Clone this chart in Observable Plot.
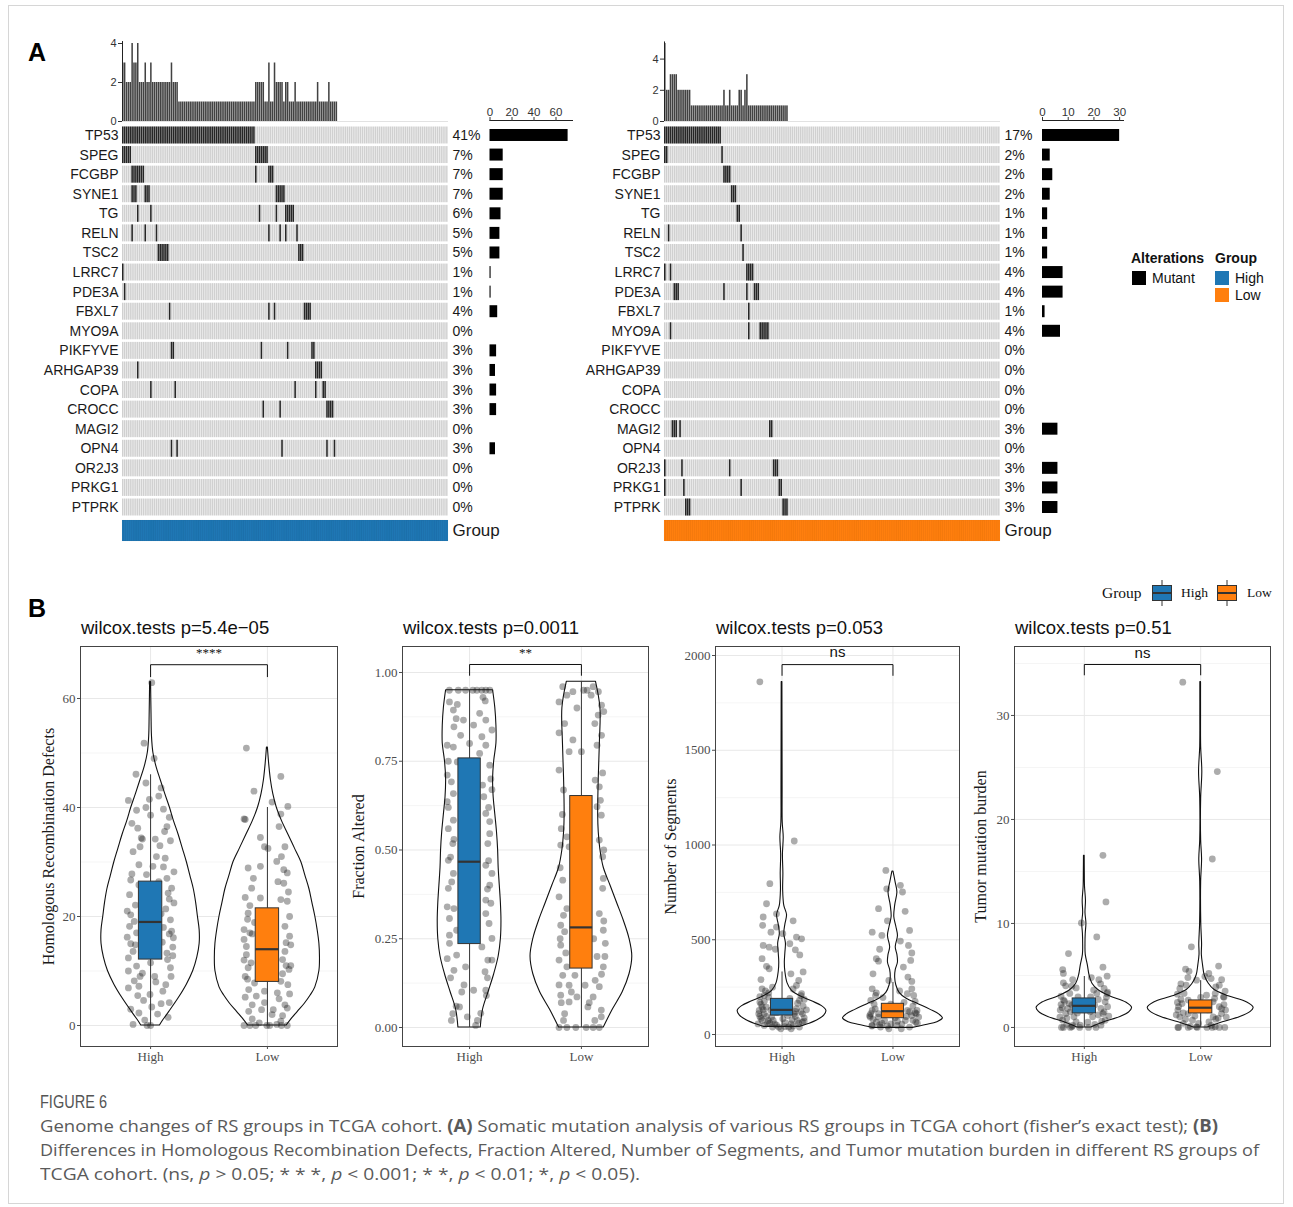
<!DOCTYPE html>
<html><head><meta charset="utf-8">
<script src="https://cdn.jsdelivr.net/npm/d3@7"></script>
<script src="https://cdn.jsdelivr.net/npm/@observablehq/plot@0.6"></script>
<style>
body{margin:0;background:#fff;}
#root{position:relative;width:1293px;height:1207px;overflow:hidden;background:#fff;}
.abs{position:absolute;white-space:nowrap;}
.sans{font-family:"Liberation Sans",Arial,sans-serif;}
.serif{font-family:"Liberation Serif","Times New Roman",serif;}
.ttl{font-family:"Liberation Sans",Arial,sans-serif;font-size:18.5px;line-height:22px;color:#111;}
.capl{font-family:"Open Sans","Liberation Sans",sans-serif;font-size:17px;line-height:22px;color:#5a5a5a;transform-origin:0 0;}
</style></head><body><div id="root"></div>
<script>
// ---------------- Panel A data ----------------
const genes = ["TP53","SPEG","FCGBP","SYNE1","TG","RELN","TSC2","LRRC7","PDE3A","FBXL7","MYO9A","PIKFYVE","ARHGAP39","COPA","CROCC","MAGI2","OPN4","OR2J3","PRKG1","PTPRK"];
const nHigh = 174, nLow = 176;
const highPct = ["41%","7%","7%","7%","6%","5%","5%","1%","1%","4%","0%","3%","3%","3%","3%","0%","3%","0%","0%","0%"];
const lowPct  = ["17%","2%","2%","2%","1%","1%","1%","4%","4%","1%","4%","0%","0%","0%","0%","3%","0%","3%","3%","3%"];
const highCounts = [71,12,12,12,10,9,9,1,1,7,0,6,5,6,6,0,5,0,0,0];
const lowCounts  = [30,3,4,3,2,2,2,8,8,1,7,0,0,0,0,6,0,6,6,6];
// mutated sample columns per gene (ranges)
const highMut = ["0-70","0-4,71-77","5-11,71,78-80","5-7,12-14,82-86","8,15,73,82,87-91","5,12,18,78,84,87,93","19-24,94-96","0","1","25,78,81,97-100","","26,27,74,88,101,102","8,103-106","15,28,92,103,107,108","75,84,109-112","","26,29,85,109,113","","",""];
const lowMut  = ["0-29","0,1,30","31-34","35-37","38,39","2,40","41","0,3,43-46","5-7,31,43,47-49","44","3,44,50-54","","","","","4-6,8,55,56","","0,9,34,57-59","0,10,40,60,61","11-13,62-64"];
// mutations per sample (top bars), as [height, run length]
const highBurdenRuns = [[3,2],[2,3],[4,1],[3,2],[4,1],[2,3],[3,1],[2,2],[3,1],[2,10],[3,1],[2,3],[1,41],[2,5],[1,2],[3,1],[1,2],[3,1],[2,4],[1,1],[2,2],[1,3],[2,1],[1,11],[2,1],[1,5],[2,1],[1,4]];
const lowBurdenRuns  = [[5,1],[2,2],[3,4],[2,7],[1,17],[2,1],[1,2],[2,1],[1,4],[2,2],[1,1],[2,1],[3,1],[1,21]];

// ---------------- Panel B data ----------------
// violin outlines: [value, half-width in category units]
const hrdViolinHigh = [[0,0.08],[1,0.11],[2.5,0.16],[5,0.24],[7.5,0.31],[10,0.365],[12.5,0.4],[15,0.42],[17.5,0.42],[20,0.405],[22.5,0.39],[25,0.37],[27.5,0.34],[30,0.31],[32.5,0.275],[35,0.24],[37.5,0.2],[40,0.165],[42.5,0.125],[45,0.087],[47.5,0.05],[50,0.024],[53,0.012],[57,0.008],[63,0.004]];
const hrdViolinLow  = [[0,0.165],[1,0.2],[2.5,0.26],[4,0.32],[5.5,0.37],[7,0.41],[10,0.445],[12.5,0.45],[15,0.445],[17.5,0.43],[20,0.41],[22.5,0.385],[25,0.36],[27.5,0.325],[30,0.29],[32.5,0.235],[35,0.18],[37.5,0.125],[40,0.08],[42.5,0.05],[45,0.03],[48,0.015],[51,0.004]];
const faViolinHigh  = [[0,0.1],[0.05,0.12],[0.1,0.17],[0.15,0.22],[0.2,0.26],[0.25,0.28],[0.3,0.285],[0.35,0.28],[0.4,0.27],[0.45,0.26],[0.5,0.255],[0.55,0.245],[0.6,0.23],[0.65,0.215],[0.7,0.21],[0.75,0.22],[0.8,0.24],[0.85,0.24],[0.9,0.23],[0.95,0.21]];
const faViolinLow   = [[0,0.2],[0.05,0.28],[0.1,0.37],[0.15,0.43],[0.2,0.455],[0.25,0.43],[0.3,0.38],[0.35,0.32],[0.4,0.26],[0.45,0.2],[0.5,0.17],[0.55,0.155],[0.6,0.15],[0.7,0.155],[0.8,0.165],[0.9,0.17],[0.974,0.13]];
const segViolinHigh = [[40,0.16],[55,0.24],[75,0.32],[100,0.38],[125,0.4],[150,0.36],[175,0.27],[200,0.17],[230,0.09],[270,0.05],[330,0.03],[380,0.025],[430,0.03],[480,0.035],[530,0.02],[580,0.03],[630,0.045],[680,0.02],[760,0.01],[850,0.012],[950,0.008],[1040,0.015],[1120,0.006],[1300,0.005],[1600,0.004],[1860,0.003]];
const segViolinLow  = [[35,0.18],[50,0.3],[65,0.4],[85,0.45],[105,0.42],[130,0.34],[160,0.23],[190,0.12],[220,0.06],[260,0.03],[300,0.02],[340,0.025],[380,0.045],[420,0.04],[460,0.025],[520,0.045],[570,0.03],[620,0.012],[680,0.02],[750,0.04],[800,0.025],[860,0.005]];
const tmbViolinHigh = [[0,0.06],[0.5,0.17],[1,0.31],[1.5,0.39],[1.9,0.41],[2.4,0.36],[3,0.22],[3.6,0.12],[4.2,0.07],[5,0.045],[6,0.03],[7,0.012],[8,0.01],[9,0.012],[10,0.018],[11,0.01],[12.2,0.014],[13.5,0.006],[15,0.004],[16.5,0.003]];
const tmbViolinLow  = [[0,0.06],[0.5,0.19],[1,0.34],[1.5,0.43],[1.9,0.455],[2.4,0.4],[3,0.24],[3.6,0.12],[4.2,0.07],[5,0.035],[6,0.02],[7,0.01],[8,0.012],[10,0.005],[14,0.004],[16.2,0.012],[18,0.004],[22,0.004],[24.6,0.014],[27,0.004],[30,0.003],[33.2,0.003]];
// boxes: [lower whisker, q1, median, q3, upper whisker]
const hrdBoxHigh = [0,12.1,19.0,26.4,46];
const hrdBoxLow  = [0,8.0,14.0,21.5,40];
const faBoxHigh  = [0,0.235,0.467,0.758,0.95];
const faBoxLow   = [0,0.166,0.282,0.652,0.974];
const segBoxHigh = [40,100,130,188,330];
const segBoxLow  = [35,86,123,162,275];
const tmbBoxHigh = [0,1.35,2.08,2.79,4.9];
const tmbBoxLow  = [0,1.35,1.9,2.6,4.5];
// jittered points: [x offset, value]
const hrdPtsHigh = [[0.01,62.9],[-0.056,51.8],[-0.125,46.1],[0.07,42.1],[-0.19,41.3],[0.11,39.7],[-0.01,41.5],[0,38.6],[0.16,38.2],[-0.16,37.1],[-0.08,34.4],[-0.07,34.2],[0.04,34.2],[0.17,33.9],[-0.15,31.9],[0.125,30.7],[-0.1,29.5],[0.02,29.2],[0.11,29.1],[0.2,28.2],[-0.035,27.7],[-0.1,25.8],[0.07,26.4],[-0.18,24],[0.15,24.3],[-0.07,23.4],[-0.17,20.3],[0.09,20.5],[0.16,23.2],[0.17,19.4],[-0.14,19.1],[-0.18,18.2],[0.18,17.3],[-0.12,17],[0.195,16.1],[-0.17,15],[0.1,15.3],[-0.15,13.6],[-0.05,13.9],[0.14,13.3],[-0.19,12.4],[0.145,12.1],[0,11.5],[-0.12,10.9],[0.17,10.6],[-0.07,9.6],[0.035,9],[-0.09,9],[0.175,9],[-0.19,6.9],[-0.1,7.2],[0.045,8],[0.105,6.3],[-0.005,5.7],[0.16,4.2],[-0.1,2.3],[0.01,3.4],[-0.15,0.2],[-0.03,0],[0,0],[-0.13,22.1],[0.13,21.4],[-0.17,26.7],[0.18,25.2],[-0.2,16.2],[0.19,14.4],[-0.14,8.2],[0.13,7.5],[0.06,2.1],[-0.06,4.6],[0.12,35.6],[-0.11,36.2],[0.05,31],[-0.04,40],[0.09,43.6],[-0.2,21],[0.2,22.5],[-0.16,27.8],[0.14,27],[-0.09,32.8],[0.08,33],[-0.19,10],[0.19,12.8],[-0.11,5.5],[0.09,4],[-0.17,3],[0.15,1.5],[-0.05,1],[0.11,18],[-0.13,14.8],[0.16,16.8],[-0.04,44.5],[0.03,49],[-0.12,39.5],[0.14,36.5]];
const hrdPtsLow = [[-0.18,50.9],[0.115,45.7],[-0.115,43],[0.175,40.2],[-0.2,37.9],[-0.19,37.8],[0.115,38.8],[0.1,36.5],[-0.025,32.8],[0.005,32.5],[0.15,32.8],[0.08,30.1],[0.14,28.6],[-0.165,28.9],[-0.06,29.2],[0.17,28],[-0.135,25.2],[0.09,26.4],[0.14,26.1],[-0.19,23.5],[-0.06,23.4],[0.115,23.1],[-0.165,20.6],[0.17,22.8],[-0.11,18.9],[-0.2,17.6],[0.15,18.2],[-0.2,15.8],[0.19,16.4],[-0.18,14.5],[0.15,13.6],[-0.18,13],[0.13,12.1],[-0.165,10.6],[0.185,10.3],[-0.19,9],[-0.11,7.8],[0.115,8.1],[0.175,7.5],[-0.16,6.6],[-0.025,6.3],[0.085,6],[0.15,3.8],[-0.095,5.4],[-0.05,2.9],[0.05,2.9],[0.04,2],[0.115,0.8],[-0.2,0],[-0.1,0],[-0.005,0],[0.08,0.2],[0.17,0],[-0.025,4.2],[-0.13,3.8],[0.17,3.2],[-0.16,2.6],[-0.14,11.5],[0.16,11],[-0.17,8.5],[0.13,9.5],[0.19,20],[-0.15,22],[-0.13,16.8],[0.2,14.8],[-0.2,12],[0.2,11],[-0.17,19.5],[0.18,24.5],[-0.12,27],[0.12,31],[-0.06,34.5],[0.04,41],[-0.19,5.2],[0.19,5.8],[-0.13,1.2],[0.13,1.8],[-0.07,0.5],[0.1,4.9],[-0.15,17],[0.16,15.2],[0.02,0],[0.12,0],[-0.15,0]];
const faPtsHigh = [[-0.181,0.95],[-0.101,0.95],[-0.036,0.95],[0.029,0.95],[0.065,0.95],[0.109,0.95],[0.145,0.95],[0.181,0.95],[-0.18,0.917],[-0.145,0.894],[0.09,0.885],[-0.055,0.866],[0.145,0.866],[-0.14,0.847],[0.036,0.852],[0.2,0.838],[-0.08,0.823],[0.11,0.819],[-0.2,0.795],[0,0.8],[-0.145,0.79],[0.145,0.795],[0.09,0.772],[-0.11,0.748],[0.18,0.739],[-0.2,0.711],[0.116,0.683],[-0.163,0.692],[-0.145,0.659],[0.127,0.65],[-0.2,0.636],[0.145,0.603],[-0.145,0.584],[-0.19,0.56],[0.18,0.546],[-0.15,0.518],[0.163,0.518],[-0.19,0.471],[0.145,0.457],[0.2,0.434],[-0.145,0.434],[-0.19,0.392],[0.18,0.401],[0.145,0.359],[-0.14,0.335],[-0.18,0.307],[0.174,0.293],[0.145,0.321],[-0.116,0.274],[0.2,0.251],[-0.18,0.237],[0.11,0.227],[-0.116,0.204],[-0.2,0.194],[0.163,0.19],[-0.036,0.171],[0.138,0.157],[-0.14,0.161],[0.036,0.105],[-0.07,0.1],[0.145,0.105],[-0.09,0.058],[-0.15,0.039],[0.07,0.02],[-0.163,0.02],[0.054,0.006],[0.17,0.62],[-0.17,0.48],[0.19,0.7],[-0.12,0.87],[0.12,0.93],[-0.18,0.26],[0.16,0.14],[-0.05,0.12],[0.19,0.35],[-0.19,0.62],[0.18,0.58],[-0.16,0.41],[0.17,0.47],[-0.2,0.34],[0.2,0.19],[-0.17,0.14],[0.15,0.09],[-0.12,0.06],[0.1,0.04],[-0.19,0.75],[0.2,0.67],[-0.14,0.53],[0.16,0.39],[-0.02,0.03],[0.14,0.92],[-0.11,0.91]];
const faPtsLow = [[-0.167,0.96],[-0.076,0.946],[0.051,0.95],[0.105,0.96],[0.152,0.946],[-0.13,0.936],[0.087,0.936],[-0.2,0.917],[-0.04,0.9],[0.18,0.908],[-0.15,0.856],[0.12,0.856],[0.18,0.823],[-0.076,0.81],[-0.11,0.777],[0,0.777],[0.14,0.795],[-0.2,0.725],[0.123,0.697],[0.19,0.717],[-0.16,0.669],[0.16,0.678],[0.14,0.622],[0.178,0.598],[-0.13,0.537],[-0.185,0.514],[-0.11,0.509],[0.16,0.528],[0.19,0.481],[-0.167,0.415],[0.196,0.42],[-0.2,0.368],[0.19,0.392],[-0.13,0.335],[-0.16,0.316],[0.16,0.321],[-0.185,0.288],[0.196,0.274],[0.214,0.237],[-0.185,0.232],[-0.2,0.19],[-0.13,0.171],[0.14,0.2],[0.196,0.171],[-0.058,0.147],[-0.167,0.147],[0.123,0.133],[0.033,0.119],[-0.11,0.119],[0.16,0.115],[-0.185,0.091],[-0.04,0.086],[0.105,0.086],[0.058,0.058],[-0.11,0.072],[0.178,0.049],[-0.15,0.039],[0.178,0.03],[-0.2,0],[-0.13,0],[-0.05,0],[0.043,0],[0.105,0],[0.16,0],[-0.19,0.25],[0.2,0.3],[-0.14,0.21],[0.11,0.25],[-0.17,0.6],[0.15,0.88],[-0.19,0.45],[0.2,0.5],[-0.18,0.56],[0.17,0.64],[-0.2,0.83],[0.2,0.89],[-0.15,0.27],[0.18,0.15],[-0.09,0.1],[0.07,0.07],[0.12,0.02],[-0.16,0.02],[-0.2,0.12],[0.21,0.2],[-0.18,0.07],[0.02,0.95]];
const segPtsHigh = [[-0.2,1861],[0.11,1021],[-0.11,796],[-0.14,690],[-0.17,620],[-0.05,637],[-0.175,576],[-0.05,567],[0.007,532],[0.13,514],[0.176,505],[-0.17,470],[-0.116,461],[0.07,479],[0.12,447],[-0.18,400],[-0.116,347],[0.08,320],[0.15,285],[-0.18,241],[-0.086,250],[0.13,259],[0.176,215],[-0.16,206],[0.157,180],[-0.2,171],[-0.12,197],[-0.206,127],[-0.16,109],[-0.124,74],[-0.067,56],[-0.03,39],[0.026,42],[0.082,56],[0.139,74],[0.184,109],[-0.18,74],[-0.094,92],[0.109,109],[0.157,39],[-0.16,48],[0.007,83],[0.064,144],[0.131,136],[-0.18,144],[-0.086,39],[0.082,30],[-0.011,30],[0.184,65],[-0.217,56],[-0.142,144],[-0.19,160],[0.19,150],[-0.1,128],[0.12,122],[-0.2,95],[0.2,88],[-0.05,115],[0.05,100],[-0.13,60],[0.1,45],[0.17,205],[-0.15,230],[-0.21,110],[-0.19,85],[-0.17,130],[-0.14,95],[-0.11,60],[-0.08,75],[-0.05,50],[0.03,62],[0.06,40],[0.09,78],[0.12,95],[0.15,60],[0.17,120],[0.2,70],[0.22,130],[-0.2,200],[0.2,185],[-0.16,175],[0.14,165],[-0.12,220],[0.1,240],[-0.08,170],[0.07,190],[-0.19,290],[0.19,330],[-0.14,360],[0.16,420],[-0.06,450],[0.1,600],[-0.1,540]];
const segPtsLow = [[-0.064,866],[0.067,787],[0.086,752],[-0.056,769],[-0.13,664],[-0.187,540],[-0.1,523],[0.15,549],[0.067,493],[0.17,430],[-0.15,400],[-0.13,387],[0.16,391],[0.094,356],[0.135,303],[-0.187,241],[0.17,241],[-0.037,285],[0.187,206],[-0.157,206],[-0.187,127],[-0.131,92],[-0.075,74],[-0.019,56],[0.037,48],[0.112,74],[0.169,100],[0.217,127],[-0.112,39],[-0.037,30],[0.075,30],[0.15,39],[0.206,65],[-0.15,65],[-0.075,109],[0.131,127],[-0.206,92],[0.232,92],[0.037,109],[-0.187,48],[-0.17,160],[0.18,150],[-0.08,140],[0.1,170],[-0.2,110],[0.2,115],[0.02,88],[-0.12,52],[-0.21,100],[-0.18,80],[-0.16,135],[-0.13,110],[-0.1,60],[-0.05,45],[0.04,70],[0.08,55],[0.12,95],[0.15,120],[0.18,75],[0.21,110],[-0.2,180],[0.2,175],[-0.15,220],[0.13,215],[-0.09,195],[0.06,230],[-0.18,320],[0.17,280],[-0.12,450],[0.14,470],[-0.05,600],[0.11,650],[-0.19,45],[0.22,60],[-0.02,160],[0.04,130]];
const tmbPtsHigh = [[0.16,16.55],[0.186,12.07],[-0.025,10.05],[0.107,8.71],[-0.136,7.1],[-0.186,5.57],[0.196,4.93],[0.125,4.6],[-0.18,4.29],[-0.107,3.97],[0.17,3.75],[-0.196,0],[-0.179,0],[-0.107,0.06],[-0.036,0.22],[0.036,0],[0.143,0.22],[-0.16,1.34],[-0.089,1.02],[0.071,1.02],[0.16,1.34],[-0.179,2.63],[-0.125,3.27],[0.107,3.27],[0.179,2.47],[-0.143,1.83],[0.143,1.83],[-0.107,2.15],[0.089,2.15],[-0.186,0.7],[0.179,0.7],[-0.054,2.95],[0.054,2.95],[-0.207,1.67],[0.196,3.27],[-0.071,0.54],[-0.2,2.2],[0.2,2.0],[-0.12,1.5],[0.12,1.2],[0.03,0.5],[-0.15,0.3],[0.08,3.6],[-0.07,3.8],[-0.21,1.0],[-0.19,1.9],[-0.17,2.5],[-0.15,0.9],[-0.13,2.3],[-0.1,0.2],[-0.06,1.4],[0.05,1.5],[0.09,0.3],[0.12,2.7],[0.15,0.6],[0.17,1.5],[0.19,2.9],[0.21,1.1],[-0.2,3.0],[0.2,3.4],[-0.16,4.0],[0.14,4.2],[-0.1,4.6],[0.06,4.8],[-0.18,5.2],[0.16,5.8],[-0.12,0],[0.1,0],[-0.04,0]];
const tmbPtsLow = [[-0.154,33.2],[0.143,24.6],[0.1,16.2],[-0.08,7.75],[0.154,5.9],[-0.1,5.4],[-0.036,4.55],[0.09,4.7],[0.036,4.9],[-0.196,0],[-0.107,0],[-0.036,0.06],[0.054,0],[0.125,0.06],[0.207,0],[-0.179,1.02],[-0.107,1.34],[0.107,1.02],[0.179,1.34],[-0.16,2.3],[0.16,1.99],[-0.143,3.27],[0.125,3.27],[-0.179,3.75],[0.196,2.95],[-0.071,0.7],[0.071,0.54],[-0.196,1.67],[0.214,1.67],[-0.125,4.07],[0.16,4.07],[-0.018,0.38],[-0.107,2.63],[0.107,2.47],[-0.2,2.4],[0.2,2.2],[-0.05,1.1],[0.05,3.1],[-0.15,0.4],[0.13,0.8],[0,2.9],[-0.08,1.8],[-0.21,1.2],[-0.19,2.0],[-0.17,2.7],[-0.15,1.4],[-0.13,0.8],[-0.09,0.1],[-0.06,2.2],[0.06,1.7],[0.09,0.2],[0.12,2.8],[0.15,0.9],[0.18,1.8],[0.2,2.9],[0.22,1.0],[-0.2,3.2],[0.21,3.5],[-0.17,4.2],[0.13,3.9],[-0.11,4.8],[0.07,5.2],[-0.19,0],[0.1,0],[-0.03,0],[0.16,0],[-0.13,5.6],[0.18,4.6]];
// bracket heights [drop end, bar, label] and significance labels
const hrdBracket = [64.0, 66.2, 68.4];
const faBracket  = [0.992, 1.0225, 1.054];
const segBracket = [1895, 1952, 2018];
const tmbBracket = [33.9, 34.9, 36.0];
const sigLabels = ["****", "**", "ns", "ns"];
const titles = ["wilcox.tests p=5.4e\u221205", "wilcox.tests p=0.0011", "wilcox.tests p=0.053", "wilcox.tests p=0.51"];
const yLabels = ["Homologous Recombination Defects", "Fraction Altered", "Number of Segments", "Tumor mutation burden"];
const groupNames = ["High", "Low"];

// ---------------- helpers ----------------
const root = document.getElementById("root");
const groupColors = ["#1f77b4", "#ff7f0e"];
const SANS = "Liberation Sans, Arial, sans-serif";
const SERIF = "Liberation Serif, Times New Roman, serif";
function place(node, left, top) {
  const d = document.createElement("div");
  d.className = "abs"; d.style.left = left + "px"; d.style.top = top + "px";
  d.appendChild(node); root.appendChild(d); return d;
}
function html(str, left, top, cls, style) {
  const d = document.createElement("div");
  d.className = "abs " + (cls || ""); d.style.left = left + "px"; d.style.top = top + "px";
  if (style) d.style.cssText += style;
  d.innerHTML = str; root.appendChild(d); return d;
}
function parseCols(s) {
  if (!s) return [];
  return s.split(",").flatMap(p => { const [a, b] = p.split("-").map(Number); return b === undefined ? [a] : d3.range(a, b + 1); });
}
function expandRuns(runs) { return runs.flatMap(([h, n]) => Array(n).fill(h)); }
const baseStyle = {background: "transparent", overflow: "visible", fontFamily: SANS};

// ---------------- Panel A ----------------
function topBars(runs, N, svgLeft, x0, x1, W, yMax) {
  const heights = expandRuns(runs);
  const data = heights.map((h, i) => ({i, h}));
  return Plot.plot({
    width: W, height: 100, marginTop: 13, marginBottom: 9, marginLeft: x0 - svgLeft, marginRight: W - (x1 - svgLeft),
    style: baseStyle,
    x: {domain: [0, N]}, y: {domain: [0, yMax]},
    marks: [
      Plot.ruleY([0], {stroke: "#e2e2e2", strokeWidth: 1}),
      Plot.rect(data, {x1: "i", x2: d => d.i + 1, y1: 0, y2: "h", fill: "#424242", insetRight: 0.35}),
      Plot.ruleX([0], {y1: 0, y2: yMax + 0.1, stroke: "#222", strokeWidth: 1}),
      Plot.axisY([0, 2, 4], {tickSize: 4, tickPadding: 2, fontSize: 11, color: "#333", label: null}),
      Plot.axisX([], {label: null})
    ]
  });
}
function matrixPlot(N, mutStrs, pct, svgLeft, x0, x1, W) {
  const cells = [];
  genes.forEach(g => { for (let i = 0; i < N; i++) cells.push({g, i}); });
  const muts = genes.flatMap((g, k) => parseCols(mutStrs[k]).map(i => ({g, i})));
  return Plot.plot({
    width: W, height: 400, marginTop: 5.2, marginBottom: 3.2, marginLeft: x0 - svgLeft, marginRight: W - (x1 - svgLeft),
    style: baseStyle,
    x: {domain: [0, N], axis: null}, y: {domain: genes, range: [5.2, 396.8], padding: 0, round: false, axis: null},
    marks: [
      Plot.barX(cells, {x1: "i", x2: d => d.i + 1, y: "g", fill: "#d0d0d0", insetRight: 0.45, insetTop: 1.3, insetBottom: 1.3}),
      Plot.barX(muts, {x1: "i", x2: d => d.i + 1, y: "g", fill: "#262626", insetRight: 0.35, insetTop: 1.3, insetBottom: 1.3}),
      Plot.text(genes, {x: 0, y: d => d, dx: -4, textAnchor: "end", fontSize: 14, fill: "#1a1a1a"}),
      Plot.text(genes, {x: N, y: d => d, text: (d, i) => pct[i], dx: 4, textAnchor: "start", fontSize: 14, fill: "#1a1a1a"})
    ]
  });
}
function groupBar(N, color, svgLeft, x0, x1, W) {
  return Plot.plot({
    width: W, height: 32, marginTop: 5, marginBottom: 6, marginLeft: x0 - svgLeft, marginRight: W - (x1 - svgLeft),
    style: baseStyle,
    x: {domain: [0, N], axis: null}, y: {domain: ["Group"], range: [5, 26], padding: 0, round: false, axis: null},
    marks: [
      Plot.barX([0], {x1: 0, x2: N, y: () => "Group", fill: color}),
      Plot.barX(d3.range(N), {x1: d => d, x2: d => d + 1, y: () => "Group", fill: color, stroke: "#1a1a1a", strokeOpacity: 0.06, strokeWidth: 0.5}),
      Plot.text(["Group"], {x: N, y: d => d, dx: 4, textAnchor: "start", fontSize: 17, fill: "#1a1a1a"})
    ]
  });
}
function sideBars(counts, xMax, ticks, svgLeft, x0, x1, W) {
  return Plot.plot({
    width: W, height: 420, marginTop: 20, marginBottom: 3, marginLeft: x0 - svgLeft, marginRight: W - (x1 - svgLeft),
    style: baseStyle,
    x: {domain: [0, xMax]}, y: {domain: genes, range: [25.2, 416.8], padding: 0, round: false, axis: null},
    marks: [
      Plot.barX(genes, {x1: 0, x2: (d, i) => counts[i], y: d => d, fill: "#000", insetTop: 3.8, insetBottom: 3.8}),
      Plot.frame({anchor: "top", stroke: "#222"}),
      Plot.axisX(ticks, {anchor: "top", tickSize: 4, tickPadding: 1, fontSize: 11.5, color: "#333", label: null})
    ]
  });
}
place(topBars(highBurdenRuns, nHigh, 0, 122, 448, 480, 4), 0, 30);
place(topBars(lowBurdenRuns, nLow, 540, 664, 1000, 492, 5), 540, 30);
place(matrixPlot(nHigh, highMut, highPct, 0, 122, 448, 480), 0, 120);
place(matrixPlot(nLow, lowMut, lowPct, 540, 664, 1000, 492), 540, 120);
place(groupBar(nHigh, groupColors[0], 0, 122, 448, 520), 0, 515);
place(groupBar(nLow, groupColors[1], 540, 664, 1000, 530), 540, 515);
place(sideBars(highCounts, 75, [0, 20, 40, 60], 470, 489.5, 572, 110), 470, 100);
place(sideBars(lowCounts, 31.5, [0, 10, 20, 30], 1022, 1042, 1123, 110), 1022, 100);

// legend A
html("Alterations", 1131, 250, "sans", "font-size:14px;font-weight:bold;line-height:17px;color:#111");
html("Group", 1215, 250, "sans", "font-size:14px;font-weight:bold;line-height:17px;color:#111");
html("", 1132, 271, "", "width:14px;height:14px;background:#000");
html("Mutant", 1152, 270, "sans", "font-size:14px;line-height:17px;color:#111");
html("", 1215, 271, "", "width:14px;height:14px;background:" + groupColors[0]);
html("High", 1235, 270, "sans", "font-size:14px;line-height:17px;color:#111");
html("", 1215, 288, "", "width:14px;height:14px;background:" + groupColors[1]);
html("Low", 1235, 287, "sans", "font-size:14px;line-height:17px;color:#111");

// ---------------- Panel B ----------------
function violinPlot(o) {
  const W = o.frameR - o.svgLeft + 8;
  const vData = [];
  o.violins.forEach((v, g) => v.forEach(([y, w]) => vData.push({g, y, x1: g + 1 - w, x2: g + 1 + w})));
  const pData = [];
  o.points.forEach((p, g) => p.forEach(([dx, y]) => pData.push({x: g + 1 + dx, y})));
  const bData = o.boxes.map((b, g) => ({x: g + 1, lo: b[0], q1: b[1], med: b[2], q3: b[3], hi: b[4], color: groupColors[g]}));
  const [yd, yb, yl] = o.bracket;
  return Plot.plot({
    width: W, height: 431, marginTop: 6, marginBottom: 25, marginLeft: o.frameL - o.svgLeft, marginRight: 8,
    style: baseStyle,
    x: {domain: [0.4, 2.6]}, y: {domain: o.yDomain},
    marks: [
      Plot.gridY(o.minor, {stroke: "#f3f3f3", strokeOpacity: 1, strokeWidth: 0.8}),
      Plot.gridY(o.ticks, {stroke: "#e8e8e8", strokeOpacity: 1, strokeWidth: 1}),
      Plot.gridX([1, 2], {stroke: "#e8e8e8", strokeOpacity: 1, strokeWidth: 1}),
      Plot.areaX(vData, {y: "y", x1: "x1", x2: "x2", z: "g", fill: "white", stroke: "#111", strokeWidth: 1.1, curve: "catmull-rom"}),
      Plot.dot(pData, {x: "x", y: "y", r: 3.4, fill: "#1a1a1a", fillOpacity: 0.36}),
      Plot.ruleX(bData, {x: "x", y1: "lo", y2: "hi", stroke: "#333", strokeWidth: 1}),
      ...bData.map(b => Plot.rect([b], {x1: d => d.x - 0.1, x2: d => d.x + 0.1, y1: "q1", y2: "q3", fill: b.color, stroke: "#333", strokeWidth: 1})),
      Plot.ruleY(bData, {y: "med", x1: d => d.x - 0.1, x2: d => d.x + 0.1, stroke: "#333", strokeWidth: 2.2}),
      Plot.line([[1, yd], [1, yb], [2, yb], [2, yd]], {stroke: "#111", strokeWidth: 1}),
      Plot.text([o.sig], {x: 1.5, y: yl, fontSize: o.sig === "ns" ? 15 : 13, fontFamily: o.sig === "ns" ? SANS : SERIF, fill: "#111"}),
      Plot.frame({stroke: "#444", strokeWidth: 1}),
      Plot.axisY(o.ticks, {tickSize: 3, tickPadding: 2, fontSize: 13, fontFamily: SERIF, color: "#4d4d4d", tickFormat: o.fmt, label: null}),
      Plot.axisX([1, 2], {tickSize: 3, tickPadding: 2, fontSize: 13, fontFamily: SERIF, color: "#4d4d4d", tickFormat: d => groupNames[d - 1], label: null}),
      Plot.text([o.label], {frameAnchor: "left", textAnchor: "middle", lineAnchor: "middle", rotate: -90, dx: o.labelDx, fontSize: 16, fontFamily: SERIF, fill: "#1a1a1a"})
    ]
  });
}
const vcfg = [
  {svgLeft: 20, frameL: 80, frameR: 337, yDomain: [-3.85, 69.54], ticks: [0, 20, 40, 60], minor: [10, 30, 50], fmt: d => String(d), labelDx: -32,
   violins: [hrdViolinHigh, hrdViolinLow], boxes: [hrdBoxHigh, hrdBoxLow], points: [hrdPtsHigh, hrdPtsLow], bracket: hrdBracket},
  {svgLeft: 345, frameL: 402, frameR: 648, yDomain: [-0.0535, 1.0732], ticks: [0, 0.25, 0.5, 0.75, 1], minor: [0.125, 0.375, 0.625, 0.875], fmt: d => d.toFixed(2), labelDx: -44,
   violins: [faViolinHigh, faViolinLow], boxes: [faBoxHigh, faBoxLow], points: [faPtsHigh, faPtsLow], bracket: faBracket},
  {svgLeft: 655, frameL: 715, frameR: 959, yDomain: [-63.3, 2047.5], ticks: [0, 500, 1000, 1500, 2000], minor: [250, 750, 1250, 1750], fmt: d => String(d), labelDx: -45,
   violins: [segViolinHigh, segViolinLow], boxes: [segBoxHigh, segBoxLow], points: [segPtsHigh, segPtsLow], bracket: segBracket},
  {svgLeft: 965, frameL: 1014, frameR: 1270, yDomain: [-1.83, 36.63], ticks: [0, 10, 20, 30], minor: [5, 15, 25, 35], fmt: d => String(d), labelDx: -34,
   violins: [tmbViolinHigh, tmbViolinLow], boxes: [tmbBoxHigh, tmbBoxLow], points: [tmbPtsHigh, tmbPtsLow], bracket: tmbBracket}
];
vcfg.forEach((c, k) => {
  c.sig = sigLabels[k]; c.label = yLabels[k];
  place(violinPlot(c), c.svgLeft, 640);
  html(titles[k], c.frameL + 1, 617, "ttl");
});

// legend B
function boxGlyph(color) {
  return `<svg width="22" height="26" style="display:block"><line x1="11" y1="0" x2="11" y2="26" stroke="#333" stroke-width="1"/><rect x="1.5" y="5.5" width="19" height="15" fill="${color}" stroke="#333" stroke-width="1"/><line x1="1.5" y1="13" x2="20.5" y2="13" stroke="#333" stroke-width="2"/></svg>`;
}
html("Group", 1102, 583, "serif", "font-size:15.5px;line-height:20px;color:#111");
html(boxGlyph(groupColors[0]), 1151, 580, "", "");
html(groupNames[0], 1181, 584, "serif", "font-size:13.5px;line-height:18px;color:#111");
html(boxGlyph(groupColors[1]), 1216, 580, "", "");
html(groupNames[1], 1247, 584, "serif", "font-size:13.5px;line-height:18px;color:#111");

// panel letters
html("A", 28, 38, "sans", "font-size:25px;font-weight:bold;line-height:28px;color:#000");
html("B", 28, 594, "sans", "font-size:25px;font-weight:bold;line-height:28px;color:#000");

// outer frame
html("", 8, 5, "", "width:1276px;height:1199px;border:1px solid #d6d6d6;box-sizing:border-box");

// caption
const capLines = [
  ["FIGURE 6", 1091, 67, "font-family:'Liberation Sans Narrow','Liberation Sans',sans-serif;font-size:18px;line-height:22px;color:#555"],
  ["Genome changes of RS groups in TCGA cohort. <b>(A)</b> Somatic mutation analysis of various RS groups in TCGA cohort (fisher\u2019s exact test); <b>(B)</b>", 1115, 1178, ""],
  ["Differences in Homologous Recombination Defects, Fraction Altered, Number of Segments, and Tumor mutation burden in different RS groups of", 1139, 1219, ""],
  ["TCGA cohort. (ns, <i>p</i> &gt; 0.05; * * *, <i>p</i> &lt; 0.001; * *, <i>p</i> &lt; 0.01; *, <i>p</i> &lt; 0.05).", 1163, 600, ""]
];
capLines.forEach(([t, top, w, st]) => {
  const d = html(t, 40, top, "capl", st);
  const nat = d.getBoundingClientRect().width;
  if (nat > 0) d.style.transform = `scaleX(${w / nat})`;
});
</script></body></html>
